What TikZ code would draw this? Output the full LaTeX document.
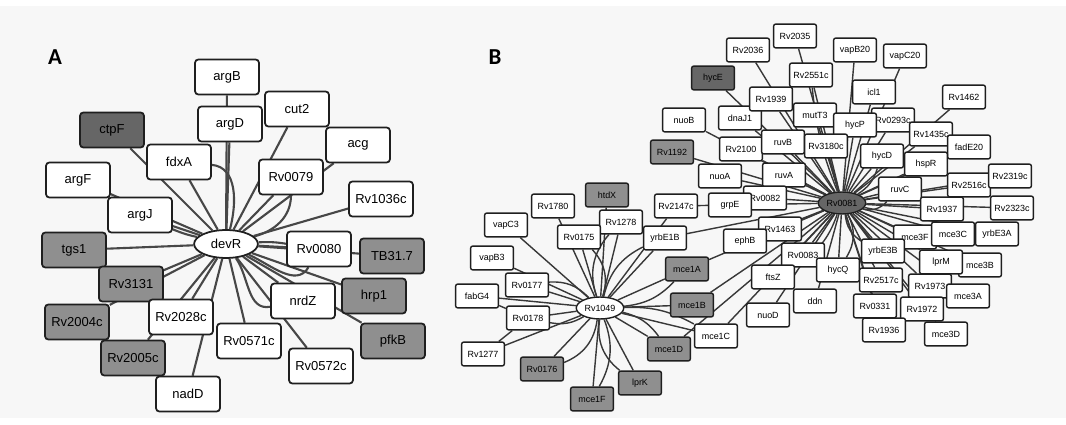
\documentclass[tikz,border=0pt]{standalone}
\usepackage{fontspec}
\setmainfont{Liberation Sans}
\newfontfamily\lblfont{Carlito}
\usepackage{tikz}
\usepgflibrary{shapes}
\usetikzlibrary{backgrounds}

\begin{document}
\begin{tikzpicture}[x=0.02cm,y=-0.02cm,
	gbox/.style={draw=black!88,fill=white,rounded corners=1.7pt,line width=1pt,minimum width=36.3pt,minimum height=19.8pt,inner sep=0pt,font=\fontsize{7.4}{8}\selectfont},
	sbox/.style={gbox,rounded corners=1.3pt,line width=0.8pt,minimum width=24.4pt,minimum height=13.6pt,font=\fontsize{5.1}{6}\selectfont},
	dk/.style={fill=black!60},
	md/.style={fill=black!44},
	hubA/.style={gbox,ellipse,sharp corners,minimum width=36.3pt,minimum height=15.9pt},
	hubB/.style={sbox,ellipse,sharp corners,minimum width=27pt,minimum height=12.5pt},
	lbl/.style={font=\lblfont\bfseries\fontsize{13}{14}\selectfont},
	every edge/.style={draw=black!72,line width=1.2pt}]
  \useasboundingbox (0,0) rectangle (1066,425);

  \node[lbl]		(labA)		at (55,57)	{A};
  \node[lbl]		(labB)		at (495,57)	{B};

  \node[hubA]		(devR)		at (226,244)	{devR};
  \node[gbox]		(argB)		at (227,77)	{argB};
  \node[gbox]		(argD)		at (230,124)	{argD};
  \node[gbox]		(cut2)		at (297,109)	{cut2};
  \node[gbox,dk]	(ctpF)		at (112,130)	{ctpF};
  \node[gbox]		(acg)		at (358,145)	{acg};
  \node[gbox]		(fdxA)		at (179,162)	{fdxA};
  \node[gbox]		(Rv0079)	at (291,177)	{Rv0079};
  \node[gbox]		(argF)		at (78,180)	{argF};
  \node[gbox]		(Rv1036c)	at (381,199)	{Rv1036c};
  \node[gbox]		(argJ)		at (140,215)	{argJ};
  \node[gbox,md]	(tgs1)		at (74,250)	{tgs1};
  \node[gbox]		(Rv0080)	at (319,249)	{Rv0080};
  \node[gbox,md]	(TB317)		at (392,256)	{TB31.7};
  \node[gbox,md]	(Rv3131)	at (131,284)	{Rv3131};
  \node[gbox]		(nrdZ)		at (303,301)	{nrdZ};
  \node[gbox,md]	(hrp1)		at (374,296)	{hrp1};
  \node[gbox,md]	(Rv2004c)	at (77,322)	{Rv2004c};
  \node[gbox]		(Rv2028c)	at (181,317)	{Rv2028c};
  \node[gbox]		(Rv0571c)	at (249,341)	{Rv0571c};
  \node[gbox,md]	(pfkB)		at (393,341)	{pfkB};
  \node[gbox,md]	(Rv2005c)	at (133,358)	{Rv2005c};
  \node[gbox]		(Rv0572c)	at (321,366)	{Rv0572c};
  \node[gbox]		(nadD)		at (188,394)	{nadD};

  \node[sbox,dk]	(hycE)		at (713,78)	{hycE};
  \node[sbox]		(nuoB)		at (684,120)	{nuoB};
  \node[sbox,md]	(Rv1192)	at (672,152)	{Rv1192};
  \node[sbox]		(dnaJ1)		at (740,118)	{dnaJ1};
  \node[sbox]		(Rv2100)	at (741,149)	{Rv2100};
  \node[sbox]		(nuoA)		at (720,176)	{nuoA};
  \node[sbox]		(Rv1939)	at (771,99)	{Rv1939};
  \node[sbox]		(Rv2036)	at (748,50)	{Rv2036};
  \node[sbox]		(Rv2035)	at (795,36)	{Rv2035};
  \node[sbox]		(vapB20)	at (855,50)	{vapB20};
  \node[sbox]		(vapC20)	at (905,56)	{vapC20};
  \node[sbox]		(Rv2551c)	at (811,75)	{Rv2551c};
  \node[sbox]		(icl1)		at (874,92)	{icl1};
  \node[sbox]		(Rv1462)	at (964,97)	{Rv1462};
  \node[sbox]		(mutT3)		at (815,115)	{mutT3};
  \node[sbox]		(Rv0293c)	at (893,120)	{Rv0293c};
  \node[sbox]		(hycP)		at (855,125)	{hycP};
  \node[sbox]		(Rv1435c)	at (931,134)	{Rv1435c};
  \node[sbox]		(ruvB)		at (783,142)	{ruvB};
  \node[sbox]		(Rv3180c)	at (826,146)	{Rv3180c};
  \node[sbox]		(fadE20)	at (969,147)	{fadE20};
  \node[sbox]		(hycD)		at (882,156)	{hycD};
  \node[sbox]		(hspR)		at (926,164)	{hspR};
  \node[sbox]		(ruvA)		at (784,175)	{ruvA};
  \node[sbox]		(Rv2516c)	at (969,185)	{Rv2516c};
  \node[sbox]		(Rv2319c)	at (1010,176)	{Rv2319c};
  \node[sbox]		(ruvC)		at (900,189)	{ruvC};
  \node[sbox]		(Rv0082)	at (765,198)	{Rv0082};
  \node[hubB,dk]	(Rv0081)	at (842,203)	{Rv0081};
  \node[sbox]		(Rv1937)	at (942,209)	{Rv1937};
  \node[sbox]		(Rv2323c)	at (1012,208)	{Rv2323c};
  \node[sbox]		(grpE)		at (730,205)	{grpE};
  \node[sbox]		(Rv2147c)	at (676,206)	{Rv2147c};
  \node[sbox]		(Rv1463)	at (780,229)	{Rv1463};
  \node[sbox]		(yrbE1B)	at (665,238)	{yrbE1B};
  \node[sbox]		(ephB)		at (745,241)	{ephB};
  \node[sbox]		(Rv0083)	at (803,255)	{Rv0083};
  \node[sbox,md]	(mce1A)		at (687,269)	{mce1A};
  \node[sbox]		(ftsZ)		at (773,277)	{ftsZ};
  \node[sbox]		(hycQ)		at (838,270)	{hycQ};
  \node[sbox]		(mce3F)		at (915,237)	{mce3F};
  \node[sbox]		(mce3C)		at (953,234)	{mce3C};
  \node[sbox]		(yrbE3A)	at (997,234)	{yrbE3A};
  \node[sbox]		(yrbE3B)	at (883,251)	{yrbE3B};
  \node[sbox]		(mce3B)		at (980,265)	{mce3B};
  \node[sbox]		(lprM)		at (941,262)	{lprM};
  \node[sbox,md]	(mce1B)		at (692,305)	{mce1B};
  \node[sbox]		(ddn)		at (815,301)	{ddn};
  \node[sbox]		(Rv2517c)	at (881,280)	{Rv2517c};
  \node[sbox]		(Rv1973)	at (930,286)	{Rv1973};
  \node[sbox]		(mce3A)		at (968,296)	{mce3A};
  \node[sbox]		(nuoD)		at (768,315)	{nuoD};
  \node[sbox]		(mce1C)		at (716,336)	{mce1C};
  \node[sbox]		(Rv0331)	at (875,306)	{Rv0331};
  \node[sbox]		(Rv1972)	at (922,309)	{Rv1972};
  \node[sbox]		(Rv1936)	at (884,330)	{Rv1936};
  \node[sbox]		(mce3D)		at (946,334)	{mce3D};

  \node[sbox,md]	(htdX)		at (607,195)	{htdX};
  \node[sbox]		(Rv1780)	at (553,206)	{Rv1780};
  \node[sbox]		(Rv1278)	at (621,222)	{Rv1278};
  \node[sbox]		(vapC3)		at (506,225)	{vapC3};
  \node[sbox]		(Rv0175)	at (579,237)	{Rv0175};
  \node[sbox]		(vapB3)		at (492,258)	{vapB3};
  \node[sbox]		(Rv0177)	at (527,285)	{Rv0177};
  \node[sbox]		(fabG4)		at (477,296)	{fabG4};
  \node[hubB]		(Rv1049)	at (600,308)	{Rv1049};
  \node[sbox]		(Rv0178)	at (528,318)	{Rv0178};
  \node[sbox]		(Rv1277)	at (483,354)	{Rv1277};
  \node[sbox,md]	(Rv0176)	at (542,369)	{Rv0176};
  \node[sbox,md]	(mce1D)		at (669,349)	{mce1D};
  \node[sbox,md]	(lprK)		at (640,383)	{lprK};
  \node[sbox,md]	(mce1F)		at (592,399)	{mce1F};

  \begin{scope}[on background layer]
  \fill[black!3] (0,6) rectangle (1066,418);
  \path 	(devR) edge (argB) edge (argD) edge (cut2) edge (ctpF) edge (acg)
		(devR) edge (fdxA) edge (Rv0079) edge (argF) edge (Rv1036c) edge (argJ)
		(devR) edge (tgs1) edge (Rv0080) edge (TB317) edge (Rv3131) edge (nrdZ)
		(devR) edge (hrp1) edge (Rv2004c) edge (Rv2028c) edge (Rv0571c) edge (pfkB)
		(devR) edge (Rv2005c) edge (Rv0572c) edge (nadD)
		(devR) edge [bend left=6] (Rv0080) edge [bend left=5] (argJ)
		(fdxA) edge [out=-5,in=75] (devR)
		(Rv0079) edge [out=-90,in=15] (devR)
		(Rv0080) edge [out=-120,in=-25] (devR)
		(nrdZ) edge [out=190,in=-55] (devR);
  \end{scope}

  \begin{scope}[on background layer,every edge/.style={draw=black!78,line width=0.8pt}]
  \path 	(Rv0081) edge (Rv2036) edge (Rv2035) edge (Rv1939) edge (Rv2551c) edge (mutT3)
		(Rv0081) edge (vapB20) edge (icl1) edge (vapC20) edge (hycP) edge (Rv0293c)
		(Rv0081) edge (Rv1462) edge (Rv1435c) edge (fadE20) edge (hycD) edge (hspR)
		(Rv0081) edge (ruvB) edge (Rv3180c) edge (ruvA) edge (Rv0082) edge (ruvC)
		(Rv0081) edge (Rv2516c) edge (Rv2319c) edge (Rv1937) edge (Rv2323c) edge (mce3F)
		(Rv0081) edge (mce3C) edge (yrbE3A) edge (yrbE3B) edge (lprM) edge (mce3B)
		(Rv0081) edge (Rv2517c) edge (Rv1973) edge (mce3A) edge (Rv0331) edge (Rv1972)
		(Rv0081) edge (Rv1936) edge (mce3D) edge (hycQ) edge (ddn) edge (Rv0083)
		(Rv0081) edge (ftsZ) edge (Rv1463) edge (nuoD) edge (grpE) edge (nuoA)
		(Rv0081) edge (Rv1192) edge (Rv2100) edge (nuoB) edge (dnaJ1) edge (hycE)
		(Rv0081) edge (yrbE1B) edge (ephB) edge (mce1A) edge (mce1B) edge (mce1C) edge (mce1D)
		(Rv0081) edge [bend left=8] (Rv2551c) edge [bend right=30] (ruvC) edge [bend left=30] (hycQ)
		(Rv0081) edge [bend right=25] (yrbE3B) edge [bend left=20] (ftsZ) edge [bend right=20] (hycD);
  \path 	(Rv1049) edge (htdX) edge (Rv1780) edge (Rv1278) edge (vapC3) edge (Rv0175)
		(Rv1049) edge (vapB3) edge (Rv0177) edge (fabG4) edge (Rv0178) edge (Rv1277)
		(Rv1049) edge (Rv0176) edge (mce1F) edge (lprK) edge (mce1D) edge (mce1C)
		(Rv1049) edge (mce1B) edge (mce1A) edge (yrbE1B) edge (Rv2147c)
		(Rv1049) edge [bend left=30] (Rv1278) edge [bend right=30] (Rv0175) edge [bend left=25] (yrbE1B)
		(Rv1049) edge [bend right=25] (Rv0177) edge [bend left=20] (Rv0178) edge [bend left=30] (Rv0176)
		(Rv1049) edge [bend left=25] (mce1F) edge [bend right=30] (lprK) edge [bend left=20] (mce1D)
		(Rv1049) edge [bend right=20] (mce1A) edge [bend left=15] (mce1C)
		(Rv2147c) edge (grpE)
		(fabG4) edge (Rv0178)
		(Rv1277) edge (Rv0178);
  \end{scope}
\end{tikzpicture}
\end{document}
